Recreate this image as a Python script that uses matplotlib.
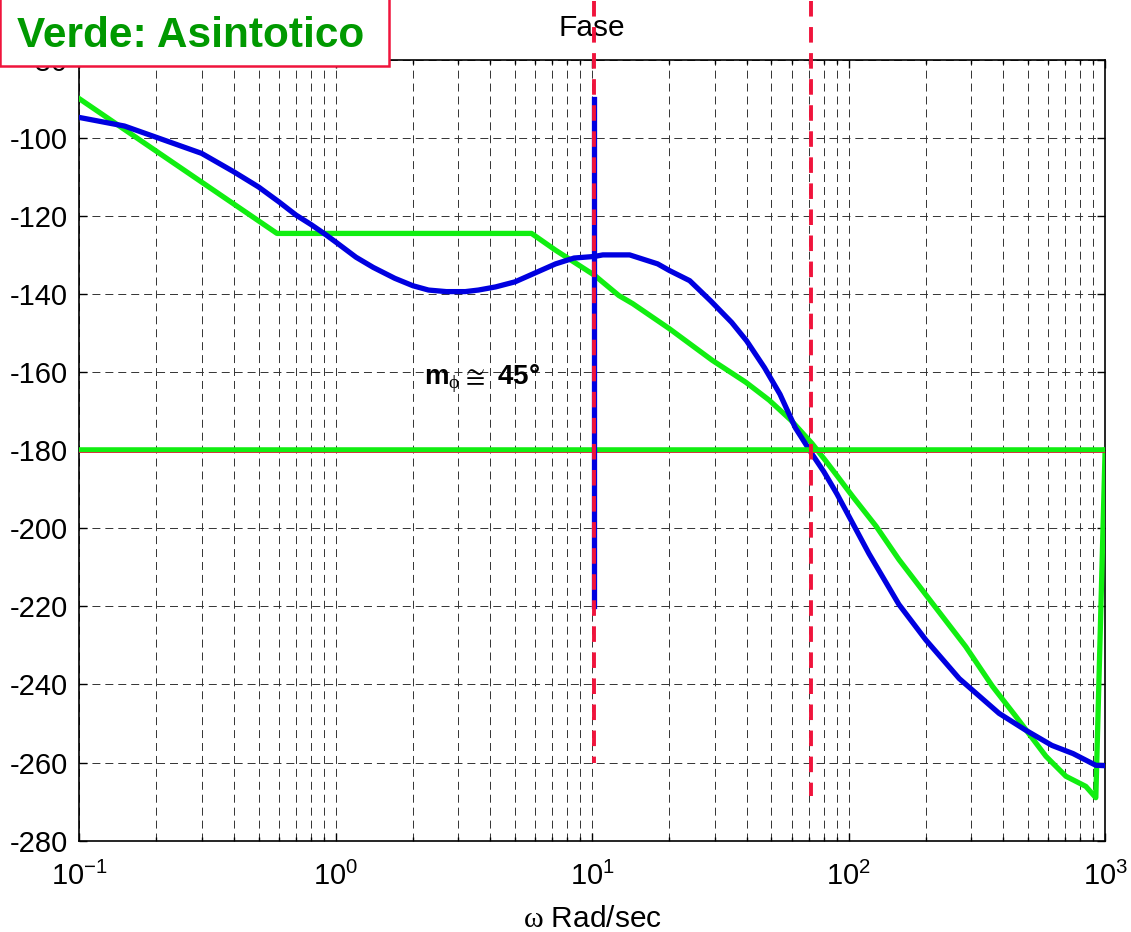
import numpy as np
import matplotlib
matplotlib.use("Agg")
import matplotlib.pyplot as plt
import matplotlib.ticker as ticker
from matplotlib.patches import Rectangle

plt.rcParams['font.family'] = ['Liberation Sans', 'DejaVu Sans']
plt.rcParams['mathtext.fontset'] = 'custom'
plt.rcParams['mathtext.rm'] = 'Liberation Sans'
plt.rcParams['mathtext.bf'] = 'Liberation Sans:bold'
plt.rcParams['mathtext.sf'] = 'Liberation Serif'   # greek symbols in serif
plt.rcParams['axes.unicode_minus'] = False

# real phase curve (blue)
w_fase = [0.1, 0.15, 0.2, 0.3, 0.4, 0.5, 0.6, 0.7, 0.8, 0.9, 1.0, 1.2, 1.4,
          1.7, 2.0, 2.3, 2.7, 3.2, 3.6, 4.2, 5.0, 6.0, 7.2, 8.5, 10.2, 11,
          14, 18, 20, 24, 29, 35, 40, 47, 54, 62, 72, 80, 90, 100, 120, 157,
          200, 270, 386, 490, 620, 750, 920, 1000]
fase = [-94.8, -97.0, -99.9, -104.0, -108.7, -112.6, -116.4, -119.8, -122.2,
        -124.5, -126.7, -130.6, -133.2, -136.0, -137.9, -139.0, -139.4,
        -139.4, -139.0, -138.2, -136.9, -134.6, -132.3, -130.8, -130.4,
        -130.0, -130.0, -132.3, -134.0, -136.6, -141.8, -147.3, -152.0,
        -158.9, -165.7, -174.3, -181.0, -185.5, -191.2, -196.8, -206.5,
        -219.5, -228.6, -238.5, -247.4, -251.7, -255.6, -257.7, -260.7,
        -260.8]

# asymptotic phase (green)
w_asin = [0.1, 0.59, 5.8, 7.2, 10.2, 12.7, 14.4, 20, 29.4, 39.7, 49,
          59.5, 72, 81.5, 90, 103.5, 128, 157, 212, 286, 364, 449, 588,
          703, 841, 920, 1000]
fase_asin = [-90.0, -124.5, -124.5, -128.8, -135.2, -140.4, -142.5,
             -148.9, -157.0, -162.6, -167.2, -172.3, -178.3, -182.8,
             -186.5, -191.8, -199.5, -208.0, -219.2, -230.3, -240.5,
             -248.2, -258.4, -263.5, -266.1, -269.0, -180.0]

w_c = 10.2      # crossover frequency
w_pi = 71       # phase = -180 frequency
fase_lim = -180

verde = '#11ee11'
blu = '#0000e0'
rosso = '#f0143c'

fig = plt.figure(figsize=(11.31, 9.32), dpi=100)
ax = fig.add_axes([0.0701, 0.098, 0.907, 0.838])

ax.semilogx(w_fase, fase, color=blu, lw=3.8, zorder=4)
ax.semilogx(w_asin, fase_asin, color=verde, lw=3.8, zorder=3)
ax.plot([w_asin[0], w_asin[-1]], [fase_lim, fase_lim], color=verde, lw=4, zorder=5)
ax.plot([w_asin[0], w_asin[-1]], [fase_lim - 0.5, fase_lim - 0.5], color=rosso, lw=0.6, zorder=5)

# crossover marker
ax.plot([w_c, w_c], [-90, -220], color=blu, lw=3.8, zorder=6)
ax.plot([w_c, w_c], [-65, -260], color=rosso, lw=2.8, ls=(0, (4.0, 2.7)),
        clip_on=False, zorder=7)
ax.plot([w_pi, w_pi], [-65, -268.5], color=rosso, lw=2.8, ls=(0, (4.0, 2.7)),
        clip_on=False, zorder=7)

ax.text(2.21, -161.8, r'm$_{\mathsf{\phi}}\cong$ 45°', fontsize=20,
        fontweight='bold', va='center', ha='left', zorder=8)

ax.set_xlim(0.1, 1000)
ax.set_ylim(-280, -80)
ax.set_yticks(np.arange(-280, -79, 20))
ax.xaxis.set_major_locator(ticker.LogLocator(base=10, numticks=10))
ax.xaxis.set_minor_locator(ticker.LogLocator(base=10, subs=np.arange(2, 10), numticks=20))
ax.xaxis.set_minor_formatter(ticker.NullFormatter())

ax.grid(True, which='major', color='#333333', lw=0.7, ls=(0, (8.2, 5.1)))
ax.grid(True, which='minor', axis='x', color='#333333', lw=0.7, ls=(0, (8.2, 5.1)))
ax.set_axisbelow(True)

ax.tick_params(which='both', direction='in', top=True, right=True, labelsize=21, width=1)
ax.tick_params(which='major', length=6)
ax.tick_params(which='minor', length=3)
ax.tick_params(axis='x', pad=15)
ax.tick_params(axis='y', pad=8)
for s in ax.spines.values():
    s.set_linewidth(1.2)

ax.set_title('Fase', fontsize=21.5, pad=17)
ax.set_xlabel(r'$\mathsf{\omega}$ Rad/sec', fontsize=21.5, labelpad=10)

# legend-style box in the top left corner
fig.patches.append(Rectangle((0, 1 - 66 / 932), 389 / 1131, 0.2,
                             transform=fig.transFigure, facecolor='white',
                             edgecolor=rosso, lw=1.8, zorder=10))
fig.text(17 / 1131, 1 - 47 / 932, 'Verde: Asintotico', fontsize=30.5,
         fontweight='bold', color='#009900', ha='left', va='baseline', zorder=11)

fig.savefig('out.png', dpi=100)
